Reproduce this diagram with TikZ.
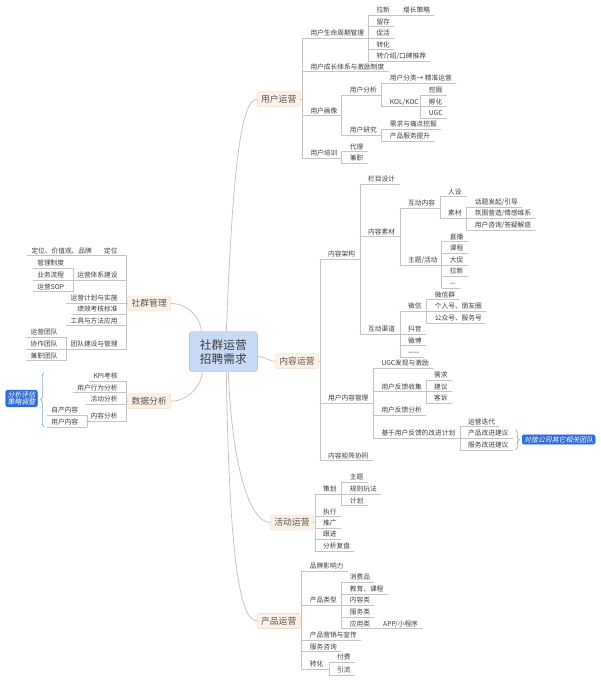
\documentclass[tikz,border=0pt]{standalone}
\usepackage{fontspec}
\setmainfont{Noto Sans CJK SC}[AutoFakeSlant=0.2]
\usepackage{xcolor}
\usepackage{tikz}
\usetikzlibrary{decorations.pathreplacing}

\definecolor{txt}{HTML}{3C3C3C}
\definecolor{lnc}{HTML}{C4C4C4}
\definecolor{boxbg}{HTML}{FDF1E6}
\definecolor{boxln}{HTML}{EBD1B8}
\definecolor{mtxt}{HTML}{555555}
\definecolor{rootbg}{HTML}{C7DAF8}
\definecolor{rootln}{HTML}{8DB1E6}
\definecolor{calbg}{HTML}{2E6CD6}
\definecolor{brcol}{HTML}{79A6E6}

\tikzset{
  cn/.style={draw=lnc, line width=0.7pt, line cap=round},
  mainln/.style={draw=lnc, line width=0.8pt},
  tp/.style={inner sep=0pt, text height=6pt, text depth=2.4pt, text=txt, font=\fontsize{6.7}{8}\selectfont,
    append after command={(\tikzlastnode.south west) edge[cn] (\tikzlastnode.south east)}},
  rt/.style={tp, anchor=south west, execute at begin node=\hspace{8pt}, execute at end node=\hspace{4pt}},
  lt/.style={tp, anchor=south east, execute at begin node=\hspace{4pt}, execute at end node=\hspace{9pt}},
  mbox/.style={draw=boxln, fill=boxbg, rounded corners=1.5pt, minimum width=43pt, minimum height=15pt,
    inner sep=1pt, text=mtxt, font=\fontsize{8.8}{10}\selectfont},
  rootbox/.style={draw=rootln, fill=rootbg, rounded corners=3pt, minimum width=68pt, minimum height=40pt,
    align=center, text=txt, font=\fontsize{11.7}{14}\selectfont},
  bluenote/.style={draw=calbg, fill=calbg, rounded corners=1.5pt, inner xsep=2pt, inner ysep=1.5pt, text=white,
    align=center, font=\fontsize{6.9}{7.4}\selectfont\itshape},
  brc/.style={draw=brcol, line width=0.7pt, decorate, decoration={brace, amplitude=3.5pt}},
}

\begin{document}
\begin{tikzpicture}[x=1pt, y=-1pt]
\useasboundingbox (0,0) rectangle (600,680);

\node[rootbox] (root) at (223.3,351.7) {社群运营\\招聘需求};

\node[mbox] (user) at (278.7,99.2) {用户运营};
\node[rt] (life) at (302.3,38.2) {用户生命周期管理};
\node[rt] (grow) at (302.3,71.7) {用户成长体系与激励制度};
\node[rt] (portrait) at (302.3,115.7) {用户画像};
\node[rt] (utrain) at (302.3,158.3) {用户培训};
\node[rt] (pull) at (368.3,15) {拉新};
\node[rt] (strat) at (395,15) {增长策略};
\node[rt] (keep) at (368.3,26.6) {留存};
\node[rt] (active) at (368.3,38.2) {促活};
\node[rt] (conv) at (368.3,49.8) {转化};
\node[rt] (refer) at (368.3,61.4) {转介绍/口碑推荐};
\node[rt] (uanal) at (341.7,95.3) {用户分析};
\node[rt] (ucls) at (381.7,83.5) {用户分类→ 精准运营};
\node[rt] (kol) at (381.7,106.8) {KOL/KOC};
\node[rt] (dig) at (420.7,95.2) {挖掘};
\node[rt] (incub) at (420.7,106.8) {孵化};
\node[rt] (ugc) at (420.7,118.4) {UGC};
\node[rt] (ures) at (341.7,135.3) {用户研究};
\node[rt] (need) at (381.7,129.5) {需求与痛点挖掘};
\node[rt] (lift) at (381.7,141.1) {产品服务提升};
\node[rt] (agent) at (341.7,151.7) {代理};
\node[rt] (ptime) at (341.7,163.3) {兼职};

\node[mbox] (content) at (297,361.2) {内容运营};
\node[rt] (arch) at (320,259.3) {内容架构};
\node[rt] (ucm) at (320,403.3) {用户内容管理};
\node[rt] (matrix) at (320,460.7) {内容矩阵协同};
\node[rt] (column) at (360,184) {栏目设计};
\node[rt] (mater) at (360,236.7) {内容素材};
\node[rt] (chan) at (360,334.3) {互动渠道};
\node[rt] (inter) at (400,208.3) {互动内容};
\node[rt] (theme) at (400,264.9) {主题/活动};
\node[rt] (persona) at (440,196.7) {人设};
\node[rt] (matl) at (440,218.5) {素材};
\node[rt] (topic) at (466.7,206.9) {话题发起/引导};
\node[rt] (mood) at (466.7,218.5) {氛围营造/情感维系};
\node[rt] (consult) at (466.7,230.1) {用户咨询/答疑解惑};
\node[rt] (live) at (441.7,241.7) {直播};
\node[rt] (course) at (441.7,253.3) {课程};
\node[rt] (promo) at (441.7,264.9) {大促};
\node[rt] (tnew) at (441.7,276.5) {拉新};
\node[rt] (tdots) at (441.7,288.1) {—};
\node[rt] (wechat) at (400,311.3) {微信};
\node[rt] (wgroup) at (426.7,299.7) {微信群};
\node[rt] (personal) at (426.7,311.3) {个人号、朋友圈};
\node[rt] (official) at (426.7,322.9) {公众号、服务号};
\node[rt] (douyin) at (400,334.3) {抖音};
\node[rt] (weibo) at (400,345.7) {微博};
\node[rt] (cdots) at (400,357.1) {——};
\node[rt] (ugcf) at (373.3,368.3) {UGC发现与激励};
\node[rt] (collect) at (373.3,391.7) {用户反馈收集};
\node[rt] (fbana) at (373.3,415) {用户反馈分析};
\node[rt] (plan) at (373.3,438.3) {基于用户反馈的改进计划};
\node[rt] (need2) at (426,380.1) {需求};
\node[rt] (sugg) at (426,391.7) {建议};
\node[rt] (compl) at (426,403.3) {客诉};
\node[rt] (iter) at (460,426.7) {运营迭代};
\node[rt] (psugg) at (460,438.3) {产品改进建议};
\node[rt] (ssugg) at (460,449.9) {服务改进建议};
\node[bluenote, anchor=west] (dock) at (522,439.5) {对接公司其它相关团队};

\node[mbox] (activity) at (292,522.5) {活动运营};
\node[rt] (aplan) at (315,494) {策划};
\node[rt] (exec) at (315,516.7) {执行};
\node[rt] (spread) at (315,528.1) {推广};
\node[rt] (follow) at (315,539.5) {跟进};
\node[rt] (review) at (315,551) {分析复盘};
\node[rt] (atheme) at (341.7,482.4) {主题};
\node[rt] (rules) at (341.7,494) {规则玩法};
\node[rt] (sched) at (341.7,505.6) {计划};

\node[mbox] (product) at (278.7,620.8) {产品运营};
\node[rt] (brand) at (301.7,571) {品牌影响力};
\node[rt] (ptype) at (301.7,605.5) {产品类型};
\node[rt] (pmkt) at (301.7,640) {产品营销与宣传};
\node[rt] (pserv) at (301.7,651.7) {服务咨询};
\node[rt] (pconv) at (301.7,669) {转化};
\node[rt] (goods) at (341.7,582.3) {消费品};
\node[rt] (edu) at (341.7,593.9) {教育、课程};
\node[rt] (ctype) at (341.7,605.5) {内容类};
\node[rt] (stype) at (341.7,617.1) {服务类};
\node[rt] (atype) at (341.7,628.7) {应用类};
\node[rt] (mini) at (375,628.7) {APP/小程序};
\node[rt] (pay) at (329,662.5) {付费};
\node[rt] (drain) at (329,675) {引流};

\node[mbox] (comm) at (149.2,303.5) {社群管理};
\node[lt] (pos) at (126.7,255.7) {定位};
\node[lt] (posd) at (101,255.7) {定位、价值观、品牌};
\node[lt] (opsys) at (126.7,280) {运营体系建设};
\node[lt] (oplan) at (126.7,303.3) {运营计划与实施};
\node[lt] (perf) at (126.7,314.5) {绩效考核标准};
\node[lt] (tools) at (126.7,325.7) {工具与方法应用};
\node[lt] (team) at (126.7,349) {团队建设与管理};
\node[lt] (mrule) at (73.3,268.4) {管理制度};
\node[lt] (flow) at (73.3,280) {业务流程};
\node[lt] (sop) at (73.3,291.6) {运营SOP};
\node[lt] (opteam) at (66.7,337.4) {运营团队};
\node[lt] (coteam) at (66.7,349) {协作团队};
\node[lt] (ptteam) at (66.7,360.6) {兼职团队};

\node[mbox] (data) at (149.2,401.2) {数据分析};
\node[lt] (kpi) at (126.7,381.3) {KPI考核};
\node[lt] (behav) at (126.7,392.7) {用户行为分析};
\node[lt] (actana) at (126.7,404) {活动分析};
\node[lt] (conana) at (126.7,421.3) {内容分析};
\node[lt] (selfc) at (87.3,415.3) {自产内容};
\node[lt] (userc) at (87.3,427) {用户内容};
\node[bluenote, anchor=east] (evalnote) at (37.5,398.5) {分析评估\\策略调整};

\draw[mainln] ([xshift=3pt]root.north) .. controls +(6,-152) and +(-17,0) .. (user.west);
\draw[mainln] ([yshift=-5pt]root.east) .. controls +(10,0) and +(-8,0) .. (content.west);
\draw[mainln] ([xshift=5pt]root.south) .. controls +(4,98) and +(-20,0) .. (activity.west);
\draw[mainln] ([xshift=3pt]root.south) .. controls +(3,188) and +(-17,0) .. (product.west);
\draw[mainln] (comm.east) .. controls +(18,0) and +(0,-12) .. ([xshift=-22pt]root.north);
\draw[mainln] (data.east) .. controls +(18,0) and +(0,12) .. ([xshift=-21pt]root.south);

\draw[cn] (user.east) -- (user.east -| life.south west) (life.south west) -- (utrain.south west);
\draw[cn] (life.south east) -- (life.south east -| pull.south west) (pull.south west) -- (refer.south west);
\draw[cn] (pull.south east) -- (strat.south west);
\draw[cn] (portrait.south east) -- (portrait.south east -| uanal.south west) (uanal.south west) -- (ures.south west);
\draw[cn] (uanal.south east) -- (uanal.south east -| ucls.south west) (ucls.south west) -- (kol.south west);
\draw[cn] (kol.south east) -- (kol.south east -| dig.south west) (dig.south west) -- (ugc.south west);
\draw[cn] (ures.south east) -- (ures.south east -| need.south west) (need.south west) -- (lift.south west);
\draw[cn] (utrain.south east) -- (utrain.south east -| agent.south west) (agent.south west) -- (ptime.south west);

\draw[cn] (content.east) -- (content.east -| arch.south west) (arch.south west) -- (matrix.south west);
\draw[cn] (arch.south east) -- (arch.south east -| column.south west) (column.south west) -- (chan.south west);
\draw[cn] (mater.south east) -- (mater.south east -| inter.south west) (inter.south west) -- (theme.south west);
\draw[cn] (inter.south east) -- (inter.south east -| persona.south west) (persona.south west) -- (matl.south west);
\draw[cn] (matl.south east) -- (matl.south east -| topic.south west) (topic.south west) -- (consult.south west);
\draw[cn] (theme.south east) -- (theme.south east -| live.south west) (live.south west) -- (tdots.south west);
\draw[cn] (chan.south east) -- (chan.south east -| wechat.south west) (wechat.south west) -- (cdots.south west);
\draw[cn] (wechat.south east) -- (wechat.south east -| wgroup.south west) (wgroup.south west) -- (official.south west);
\draw[cn] (ucm.south east) -- (ucm.south east -| ugcf.south west) (ugcf.south west) -- (plan.south west);
\draw[cn] (collect.south east) -- (collect.south east -| need2.south west) (need2.south west) -- (compl.south west);
\draw[cn] (plan.south east) -- (plan.south east -| iter.south west) (iter.south west) -- (ssugg.south west);
\draw[brc] ([xshift=3pt]psugg.north east) -- ([xshift=3pt]ssugg.south east);

\draw[cn] (activity.east) -- (activity.east -| aplan.south west) (aplan.south west) -- (review.south west);
\draw[cn] (aplan.south east) -- (aplan.south east -| atheme.south west) (atheme.south west) -- (sched.south west);

\draw[cn] (product.east) -- (product.east -| brand.south west) (brand.south west) -- (pconv.south west);
\draw[cn] (ptype.south east) -- (ptype.south east -| goods.south west) (goods.south west) -- (atype.south west);
\draw[cn] (atype.south east) -- (mini.south west);
\draw[cn] (pconv.south east) -- (pconv.south east -| pay.south west) (pay.south west) -- (drain.south west);

\draw[cn] (comm.west) -- (comm.west -| pos.south east) (pos.south east) -- (team.south east);
\draw[cn] (pos.south west) -- (posd.south east);
\draw[cn] (opsys.south west) -- (opsys.south west -| mrule.south east) (mrule.south east) -- (sop.south east);
\draw[cn] (team.south west) -- (team.south west -| opteam.south east) (opteam.south east) -- (ptteam.south east);

\draw[cn] (data.west) -- (data.west -| kpi.south east) (kpi.south east) -- (conana.south east);
\draw[cn] (conana.south west) -- (conana.south west -| selfc.south east) (selfc.south east) -- (userc.south east);
\draw[brc] ([xshift=-3pt]userc.south west) -- ([xshift=-3pt]userc.south west |- kpi.north);
\end{tikzpicture}
\end{document}
